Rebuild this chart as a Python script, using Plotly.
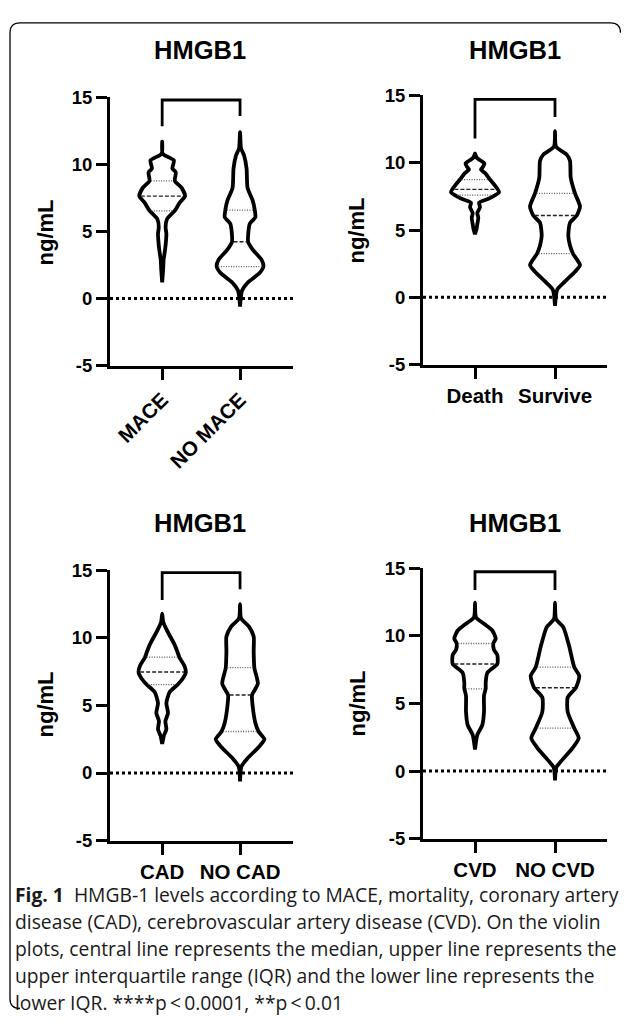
import numpy as np
import plotly.graph_objects as go

PAGE_W, PAGE_H = 629, 1027
OFF = 8  # browser body margin
W, H = PAGE_W - 2 * OFF, PAGE_H - 2 * OFF  # figure fits the window without overflow

# ---------------- data ----------------
panel_title = "HMGB1"
y_axis_title = "ng/mL"
y_tick_values = [-5, 0, 5, 10, 15]
y_tick_text = ["-5", "0", "5", "10", "15"]

categories = [
    ["MACE", "NO MACE"],
    ["Death", "Survive"],
    ["CAD", "NO CAD"],
    ["CVD", "NO CVD"],
]

# violin profiles: y level and relative density (half width)
mace_y = [11.7, 10.8, 10.3, 9.7, 9.4, 8.78, 8.25, 7.64, 7.15, 6.55, 5.93, 5.33, 4.84, 4.37, 3.65, 2.9, 2.2, 1.2]
mace_d = [0, 0.5, 12, 10.5, 14, 13, 20, 23.5, 18, 13, 5, 3.5, 4.3, 4, 3, 1.5, 1, 0]

nomace_y = [12.4, 11.2, 10.7, 9.7, 8.25, 7.3, 6.66, 6.06, 5.57, 4.23, 3.65, 2.9, 2.4, 1.9, 1.2, 0.58, -0.6]
nomace_d = [0, 1, 4, 6.7, 7.7, 13, 15, 15.7, 10, 8.3, 13, 22, 24, 20, 8, 2, 0]

death_y = [10.7, 10.4, 10.24, 9.95, 9.7, 9.5, 9.2, 8.75, 8.3, 7.8, 7.34, 7.03, 6.7, 6.26, 5.9, 5.44, 5.07, 4.7]
death_d = [0, 1.5, 4, 9.5, 8, 6, 10.5, 15, 20, 24, 14, 4, 5, 2.3, 3.3, 2.3, 1.5, 0]

survive_y = [12.35, 11.2, 10.6, 10.15, 8.9, 7.72, 6.75, 6.07, 5.54, 4.57, 3.85, 3.24, 2.4, 1.9, 1.18, 0.58, -0.63]
survive_d = [0, 1, 11.7, 15, 15.7, 20, 25, 21.7, 15, 13.3, 15, 18, 25, 20, 10, 2.3, 0]

cad_y = [11.8, 11.2, 10.5, 9.5, 8.9, 8.55, 7.95, 7.46, 6.98, 6.55, 6.0, 5.17, 4.44, 3.84, 3.24, 2.75, 2.15]
cad_d = [0, 1, 5.3, 12.7, 16, 17.7, 22.7, 24.3, 21, 16, 7.7, 4.3, 6, 3.3, 4.3, 1.7, 0]

nocad_y = [12.5, 11.45, 10.85, 10.1, 9.0, 7.78, 6.6, 5.77, 4.93, 3.72, 3.07, 2.5, 1.9, 1.06, 0.46, -0.63]
nocad_d = [0, 1, 9, 14, 14, 14.7, 18.3, 12.3, 13, 15.7, 19, 25, 19, 7.3, 1.3, 0]

cvd_y = [12.46, 11.38, 10.9, 10.4, 9.8, 9.44, 8.96, 8.6, 7.92, 7.27, 6.54, 6.1, 5.58, 4.37, 3.4, 2.68, 1.6]
cvd_d = [0, 1, 9, 17.3, 20.7, 18.3, 19, 22.3, 22.3, 12.3, 10.7, 10.7, 9, 9, 7.3, 2.3, 0]

nocvd_y = [12.46, 11.25, 10.65, 9.2, 7.68, 7.03, 6.18, 5.46, 4.37, 3.17, 2.44, 1.72, 0.75, 0.27, -0.7]
nocvd_d = [0, 1, 8.3, 14.3, 19.3, 24.3, 21, 12.7, 12.7, 19.3, 23.7, 17.7, 6.3, 1.3, 0]

# median, upper quartile, lower quartile per group
medians = [[7.64, 4.23], [8.02, 6.08], [7.48, 5.77], [7.92, 6.16]]
upper_q = [[8.78, 6.60], [8.75, 7.72], [8.58, 7.80], [9.44, 7.69]]
lower_q = [[6.53, 2.38], [7.59, 3.24], [6.54, 3.07], [6.08, 3.17]]

# significance brackets: top, left leg end, right leg end
bracket_top = [14.8, 14.7, 14.83, 14.75]
bracket_left = [12.85, 11.8, 12.8, 13.4]
bracket_right = [13.6, 13.4, 13.6, 13.4]

caption_lines = [
    "<b>Fig. 1</b>  HMGB-1 levels according to MACE, mortality, coronary artery",
    "disease (CAD), cerebrovascular artery disease (CVD). On the violin",
    "plots, central line represents the median, upper line represents the",
    "upper interquartile range (IQR) and the lower line represents the",
    "lower IQR. ****p\u2009<\u20090.0001, **p\u2009<\u20090.01",
]

profiles = [
    [(mace_y, mace_d), (nomace_y, nomace_d)],
    [(death_y, death_d), (survive_y, survive_d)],
    [(cad_y, cad_d), (nocad_y, nocad_d)],
    [(cvd_y, cvd_d), (nocvd_y, nocvd_d)],
]

# ---------------- layout geometry (pixels in the window) ----------------
panels_px = [
    (110, 293, 88, 362),
    (423, 607, 86, 361),
    (110, 293, 571, 847),
    (423, 607, 569, 845),
]
x_ranges = [[-0.67, 1.68], [-0.65, 1.65], [-0.67, 1.68], [-0.65, 1.65]]
title_pos = [(200, 40), (515, 40), (200, 523), (515, 523)]
ytitle_pos = [(45, 226), (357, 224), (45, 708), (357, 707)]
dens_scale = 1 / 80.0

FONT = "Liberation Sans, Arial, sans-serif"
fig = go.Figure()


def px_x(x):
    return (x - OFF) / W


def px_y(y):
    return 1 - (y - OFF) / H


for i in range(4):
    ax = "" if i == 0 else str(i + 1)
    xa, ya = "x" + ax, "y" + ax
    x0, x1, yt, yb = panels_px[i]
    fig.layout["xaxis" + ax] = dict(
        domain=[px_x(x0), px_x(x1)], range=x_ranges[i], anchor=ya,
        showgrid=False, zeroline=False, showline=True, linecolor="black", linewidth=3,
        ticks="outside", ticklen=11, tickwidth=3, tickcolor="black",
        tickvals=[0, 1], ticktext=categories[i],
        tickangle=-45 if i == 0 else 0,
        tickfont=dict(family=FONT, size=20.5, color="black", weight="bold"),
        fixedrange=True,
    )
    fig.layout["yaxis" + ax] = dict(
        domain=[px_y(yb), px_y(yt)], range=[-5, 15], anchor=xa,
        showgrid=False, zeroline=False, showline=True, linecolor="black", linewidth=3,
        ticks="outside", ticklen=11, tickwidth=3, tickcolor="black",
        tickvals=y_tick_values, ticktext=y_tick_text,
        tickfont=dict(family=FONT, size=18.5, color="black", weight="bold"),
        fixedrange=True,
    )
    # dotted zero line
    fig.add_trace(go.Scatter(
        x=x_ranges[i], y=[0, 0], mode="lines", xaxis=xa, yaxis=ya,
        line=dict(color="black", width=3, dash="dot"), hoverinfo="skip", showlegend=False,
    ))
    # violins
    for j in range(2):
        yv, dv = profiles[i][j]
        yv = np.array(yv, dtype=float)
        wv = np.array(dv, dtype=float) * dens_scale
        xs = np.concatenate([j + wv, (j - wv)[::-1]])
        ys = np.concatenate([yv, yv[::-1]])
        fig.add_trace(go.Scatter(
            x=xs, y=ys, mode="lines", xaxis=xa, yaxis=ya,
            line=dict(color="black", width=3.8, shape="spline", smoothing=0.6),
            fill="toself", fillcolor="white",
            hoverinfo="skip", showlegend=False,
        ))
        for val, dash, col, lw in [
            (medians[i][j], "4px,2px", "#222", 1.4),
            (upper_q[i][j], "1px,1.5px", "#555", 1.3),
            (lower_q[i][j], "1px,1.5px", "#555", 1.3),
        ]:
            hw = np.interp(val, yv[::-1], wv[::-1]) - 0.02
            fig.add_trace(go.Scatter(
                x=[j - hw, j + hw], y=[val, val], mode="lines", xaxis=xa, yaxis=ya,
                line=dict(color=col, width=lw, dash=dash), hoverinfo="skip", showlegend=False,
            ))
    # bracket
    fig.add_trace(go.Scatter(
        x=[0, 0, 1, 1], y=[bracket_left[i], bracket_top[i], bracket_top[i], bracket_right[i]],
        mode="lines", xaxis=xa, yaxis=ya, line=dict(color="black", width=2.8),
        hoverinfo="skip", showlegend=False, cliponaxis=False,
    ))
    # title and y axis title
    tx, ty = title_pos[i]
    fig.add_annotation(x=px_x(tx), y=px_y(ty), xref="paper", yref="paper",
                       text=panel_title, showarrow=False, xanchor="center", yanchor="middle",
                       font=dict(family=FONT, size=25.5, color="black", weight="bold"))
    ax_, ay_ = ytitle_pos[i]
    fig.add_annotation(x=px_x(ax_), y=px_y(ay_), xref="paper", yref="paper",
                       text=y_axis_title, showarrow=False, textangle=-90,
                       xanchor="center", yanchor="middle",
                       font=dict(family=FONT, size=22, color="black", weight="bold"))

# caption
cap_y0, cap_dy = 902, 27.5
for k, line in enumerate(caption_lines):
    fig.add_annotation(x=px_x(13), y=px_y(cap_y0 + k * cap_dy), xref="paper", yref="paper",
                       text=line, showarrow=False, xanchor="left", yanchor="middle",
                       font=dict(family="Open Sans, Noto Sans, sans-serif", size=19.3, color="#1a1a1a"))

# rounded border (right and bottom edges fall at the window edge)
bx0, by0, bx1, by1, r = 10, 12, 620.5, 1018.5, 10
path = (
    f"M {px_x(bx0 + r)},{px_y(by0)} L {px_x(bx1 - r)},{px_y(by0)} "
    f"Q {px_x(bx1)},{px_y(by0)} {px_x(bx1)},{px_y(by0 + r)} "
    f"M {px_x(bx0 + r)},{px_y(by1)} Q {px_x(bx0)},{px_y(by1)} {px_x(bx0)},{px_y(by1 - r)} "
    f"L {px_x(bx0)},{px_y(by0 + r)} Q {px_x(bx0)},{px_y(by0)} {px_x(bx0 + r)},{px_y(by0)}"
)
fig.add_shape(type="path", path=path, xref="paper", yref="paper",
              line=dict(color="black", width=1.3))

fig.update_layout(
    width=W, height=H, margin=dict(l=0, r=0, t=0, b=0),
    paper_bgcolor="white", plot_bgcolor="white", showlegend=False,
)
fig.write_html("out.html", config={"displayModeBar": False})
